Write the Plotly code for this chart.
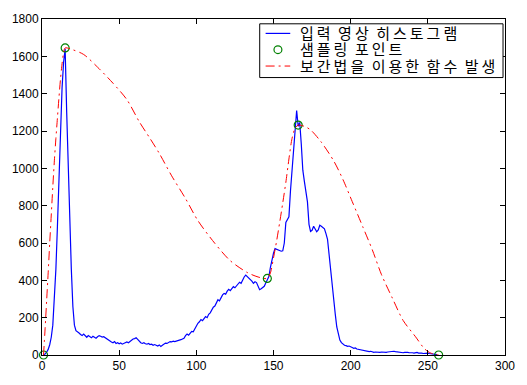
import plotly.graph_objects as go

# ---- data ----
hist_x = list(range(1, 257))
hist_y = [
    2, 5, 15, 30, 55, 95, 160, 290, 460, 690,            # 1-10
    960, 1210, 1430, 1570, 1640, 1300, 1000, 700, 460, 260,  # 11-20
    160, 130, 125, 118, 110, 104, 112, 100, 95, 104,     # 21-30
    98, 92, 100, 96, 90, 98, 104, 100, 96, 98,           # 31-40
    92, 84, 80, 72, 70, 66, 72, 62, 66, 60,              # 41-50
    64, 58, 62, 68, 70, 66, 74, 80, 86, 88,              # 51-60
    92, 84, 72, 66, 62, 66, 60, 58, 62, 56,              # 61-70
    58, 52, 56, 50, 48, 54, 46, 52, 60, 64,              # 71-80
    62, 68, 72, 70, 74, 72, 76, 78, 80, 82,              # 81-90
    84, 90, 104, 112, 106, 118, 126, 124, 140, 160,      # 91-100
    170, 178, 190, 184, 198, 206, 200, 218, 226, 240,    # 101-110
    256, 262, 280, 296, 290, 310, 322, 330, 326, 342,    # 111-120
    352, 345, 358, 366, 360, 372, 378, 390, 384, 402,    # 121-130
    418, 428, 420, 412, 408, 396, 384, 392, 388, 364,    # 131-140
    350, 355, 362, 368, 386, 405, 420, 470, 515, 545,    # 141-150
    570, 566, 562, 560, 556, 558, 600, 710, 722, 740,    # 151-160
    880, 1000, 1120, 1230, 1310, 1225, 1245, 1130, 990, 930,  # 161-170
    870, 820, 700, 662, 668, 690, 675, 660, 670, 695,    # 171-180
    690, 682, 676, 650, 620, 540, 450, 380, 290, 220,    # 181-190
    150, 110, 80, 66, 58, 52, 50, 46, 48, 42,            # 191-200
    40, 36, 38, 32, 30, 28, 30, 26, 22, 24,              # 201-210
    20, 18, 20, 16, 14, 16, 14, 12, 14, 16,              # 211-220
    14, 12, 14, 16, 18, 20, 22, 20, 18, 16,              # 221-230
    14, 12, 14, 12, 14, 16, 14, 12, 14, 12,              # 231-240
    10, 12, 14, 10, 12, 10, 8, 10, 8, 10,                # 241-250
    8, 6, 5, 4, 3, 2,                                    # 251-256
]

sample_x = [1, 15, 146, 166, 257]
sample_y = [0, 1645, 410, 1232, 0]

interp_x = [1, 2, 3, 4, 5, 6, 7, 8, 9, 10, 11, 12, 13, 14, 15, 20, 27, 36, 46, 55,
            63, 70, 76, 84, 93, 101, 112, 122, 133, 140, 146, 148, 150, 152, 154,
            156, 158, 160, 162, 164, 166, 170, 174, 181, 189, 195, 201, 208, 214,
            220, 227, 234, 242, 248, 252, 257]
interp_y = [0, 140, 290, 440, 600, 750, 900, 1040, 1160, 1270, 1380, 1480, 1560,
            1620, 1645, 1635, 1610, 1542, 1456, 1368, 1250, 1160, 1080, 960, 838,
            720, 598, 505, 442, 418, 410, 440, 520, 610, 710, 815, 925, 1050, 1160,
            1215, 1232, 1225, 1206, 1140, 1040, 940, 822, 684, 564, 430, 305, 185,
            98, 32, 10, 0]

x_ticks = [0, 50, 100, 150, 200, 250, 300]
y_ticks = [0, 200, 400, 600, 800, 1000, 1200, 1400, 1600, 1800]

legend_labels = ["입력 영상 히스토그램", "샘플링 포인트", "보간법을 이용한 함수 발생"]

BLUE = "#0000FF"
GREEN = "#008000"
RED = "#FF0000"
DASHDOT = "9px,4px,2px,4px"

W, H = 527, 385
ML, MR, MT, MB = 41, 16, 13, 22
PW, PH = W - ML - MR, H - MT - MB


def pxx(p):
    return (p - ML) / PW


def pxy(p):
    return (H - MB - p) / PH


def spaced(label):
    # MATLAB/Gulim-like spacing: thin space between glyphs, en space between words
    words = label.split(" ")
    return "\u2002".join("\u2009".join(w) for w in words)


fig = go.Figure()
fig.add_trace(go.Scatter(x=hist_x, y=hist_y, mode="lines", name=legend_labels[0],
                         line=dict(color=BLUE, width=1.2), showlegend=False))
fig.add_trace(go.Scatter(x=sample_x, y=sample_y, mode="markers", name=legend_labels[1],
                         marker=dict(symbol="circle-open", size=8, color=GREEN,
                                     line=dict(color=GREEN, width=1.2)),
                         cliponaxis=False, showlegend=False))
fig.add_trace(go.Scatter(x=interp_x, y=interp_y, mode="lines", name=legend_labels[2],
                         line=dict(color=RED, width=1, dash=DASHDOT, shape="spline",
                                   smoothing=0.8),
                         showlegend=False))

axis_common = dict(showline=True, linecolor="black", linewidth=1, mirror="ticks",
                   ticks="inside", ticklen=5, tickcolor="black", tickwidth=1,
                   showgrid=False, zeroline=False,
                   tickfont=dict(family="Liberation Sans, Arial", size=12, color="black"))

fig.update_xaxes(range=[0, 300], tickvals=x_ticks, ticktext=[str(v) for v in x_ticks],
                 **axis_common)
fig.update_yaxes(range=[0, 1800], tickvals=y_ticks, ticktext=[str(v) for v in y_ticks],
                 **axis_common)

FS = 15
rows = [28, 45, 62]

# custom legend box (MATLAB style)
shapes = [
    dict(type="rect", xref="paper", yref="paper", x0=pxx(262), x1=pxx(509),
         y0=pxy(74), y1=pxy(18), line=dict(color="black", width=1),
         fillcolor="white", layer="above"),
    dict(type="line", xref="paper", yref="paper", x0=pxx(268), x1=pxx(293),
         y0=pxy(rows[0]), y1=pxy(rows[0]), line=dict(color=BLUE, width=1.2),
         layer="above"),
    dict(type="line", xref="paper", yref="paper", x0=pxx(268), x1=pxx(293),
         y0=pxy(rows[2]), y1=pxy(rows[2]), line=dict(color=RED, width=1, dash=DASHDOT),
         layer="above"),
    dict(type="circle", xref="paper", yref="paper", x0=pxx(276.5), x1=pxx(284.5),
         y0=pxy(rows[1] + 4), y1=pxy(rows[1] - 4), line=dict(color=GREEN, width=1.2),
         layer="above"),
]
annotations = []
for lbl, yy in zip(legend_labels, rows):
    annotations.append(dict(
        xref="paper", yref="paper", x=pxx(302), y=pxy(yy),
        xanchor="left", yanchor="middle", showarrow=False, borderpad=0,
        text=spaced(lbl),
        font=dict(family="Liberation Sans, Noto Sans CJK KR", size=FS, color="black")))

fig.update_layout(width=W, height=H, margin=dict(l=ML, r=MR, t=MT, b=MB, pad=0),
                  paper_bgcolor="white", plot_bgcolor="white",
                  shapes=shapes, annotations=annotations, showlegend=False)

fig.write_html("out.html")
